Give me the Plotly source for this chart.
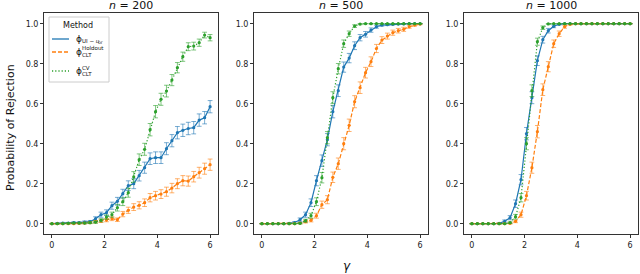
import numpy as np
import plotly.graph_objects as go

W, H = 640, 274

gamma = [0.0, 0.207, 0.414, 0.621, 0.828, 1.034, 1.241, 1.448, 1.655, 1.862,
         2.069, 2.276, 2.483, 2.69, 2.897, 3.103, 3.31, 3.517, 3.724, 3.931,
         4.138, 4.345, 4.552, 4.759, 4.966, 5.172, 5.379, 5.586, 5.793, 6.0]

panel_titles = ["200", "500", "1000"]
method_names = ["UI", "Holdout", "CV"]

ui_200 = [0, 0.002, 0.003, 0.003, 0.005, 0.005, 0.008, 0.01, 0.025, 0.045,
          0.055, 0.09, 0.112, 0.15, 0.19, 0.2, 0.24, 0.28, 0.325, 0.33,
          0.33, 0.375, 0.415, 0.455, 0.467, 0.476, 0.48, 0.518, 0.53, 0.585]
hold_200 = [0, 0, 0, 0, 0, 0.002, 0.003, 0.005, 0.01, 0.013,
            0.018, 0.025, 0.02, 0.048, 0.067, 0.083, 0.092, 0.105, 0.13, 0.14,
            0.148, 0.16, 0.178, 0.2, 0.215, 0.213, 0.235, 0.255, 0.275, 0.295]
cv_200 = [0, 0, 0, 0.002, 0.003, 0.003, 0.003, 0.005, 0.008, 0.017,
          0.033, 0.045, 0.08, 0.11, 0.155, 0.234, 0.32, 0.372, 0.47, 0.56,
          0.622, 0.663, 0.718, 0.78, 0.835, 0.885, 0.888, 0.905, 0.943, 0.93]

ui_500 = [0, 0, 0, 0, 0, 0.002, 0.006, 0.02, 0.045, 0.105,
          0.215, 0.315, 0.42, 0.56, 0.665, 0.783, 0.828, 0.89, 0.93, 0.947,
          0.968, 0.985, 0.993, 0.995, 0.997, 0.998, 0.999, 1, 1, 1]
hold_500 = [0, 0, 0, 0, 0, 0, 0, 0.003, 0.01, 0.017,
            0.04, 0.095, 0.12, 0.232, 0.3, 0.4, 0.492, 0.61, 0.68, 0.755,
            0.81, 0.876, 0.918, 0.938, 0.955, 0.965, 0.972, 0.985, 0.993, 0.998]
cv_500 = [0, 0, 0, 0, 0, 0, 0, 0.002, 0.015, 0.04,
          0.11, 0.23, 0.43, 0.63, 0.775, 0.9, 0.95, 0.988, 0.998, 1,
          1, 1, 1, 1, 1, 1, 1, 1, 1, 1]

ui_1000 = [0, 0, 0, 0, 0, 0.002, 0.012, 0.03, 0.1, 0.22,
           0.45, 0.63, 0.815, 0.92, 0.965, 0.987, 0.997, 1, 1, 1,
           1, 1, 1, 1, 1, 1, 1, 1, 1, 1]
hold_1000 = [0, 0, 0, 0, 0, 0, 0, 0.002, 0.012, 0.045,
             0.14, 0.28, 0.46, 0.67, 0.785, 0.9, 0.95, 0.985, 0.997, 1,
             1, 1, 1, 1, 1, 1, 1, 1, 1, 1]
cv_1000 = [0, 0, 0, 0, 0, 0, 0, 0.005, 0.035, 0.13,
           0.4, 0.665, 0.91, 0.98, 0.999, 1, 1, 1, 1, 1,
           1, 1, 1, 1, 1, 1, 1, 1, 1, 1]

# number of simulation repetitions behind each rejection rate
N_SIM = 1000

x_ticks = [0, 2, 4, 6]
y_ticks = [0.0, 0.2, 0.4, 0.6, 0.8, 1.0]

panels = [
    (ui_200, hold_200, cv_200),
    (ui_500, hold_500, cv_500),
    (ui_1000, hold_1000, cv_1000),
]

colors = ["#1f77b4", "#ff7f0e", "#2ca02c"]
err_colors = ["rgba(31,119,180,0.6)", "rgba(255,127,14,0.6)", "rgba(44,160,44,0.6)"]
dashes = ["solid", "4px,2px", "1.2px,2px"]

def px_x(v):
    return v / W

def px_y(v):
    return 1 - v / H

x_domains = [(44, 218), (254, 428), (464, 638)]
y_dom = (px_y(234.3), px_y(13.3))

fig = go.Figure()
FONT = "DejaVu Sans"
AX = "#333333"

for k, series in enumerate(panels):
    xa = "x" if k == 0 else f"x{k+1}"
    ya = "y" if k == 0 else f"y{k+1}"
    for j, vals in enumerate(series):
        p = np.array(vals, dtype=float)
        err = 1.96 * np.sqrt(p * (1 - p) / N_SIM)
        fig.add_trace(go.Scatter(
            x=gamma, y=vals, mode="lines+markers",
            line=dict(color=colors[j], width=1.2, dash=dashes[j]),
            marker=dict(color=colors[j], size=3.2),
            error_y=dict(type="data", array=err.tolist(), visible=True,
                         color=err_colors[j], thickness=1, width=2.4),
            xaxis=xa, yaxis=ya, showlegend=False, name=method_names[j],
        ))
    d = x_domains[k]
    axis_common = dict(showline=True, linecolor=AX, linewidth=1, mirror=True,
                       ticks="outside", ticklen=3, tickcolor=AX, tickwidth=1,
                       showgrid=False, zeroline=False,
                       tickfont=dict(family=FONT, size=8, color="#222"))
    fig.update_layout(**{
        ("xaxis" if k == 0 else f"xaxis{k+1}"): dict(
            domain=[px_x(d[0]), px_x(d[1])], range=[-0.3, 6.3],
            tickvals=x_ticks, ticktext=[str(t) for t in x_ticks],
            anchor=ya, **axis_common),
        ("yaxis" if k == 0 else f"yaxis{k+1}"): dict(
            domain=list(y_dom), range=[-0.053, 1.052],
            tickvals=y_ticks, ticktext=[f"{t:.1f}" for t in y_ticks],
            anchor=xa, **axis_common),
    })

annotations = []
shapes = []
# panel titles
for k, t in enumerate(panel_titles):
    d = x_domains[k]
    annotations.append(dict(
        text=f"<i>n</i> = {t}", x=px_x((d[0] + d[1]) / 2), y=px_y(5),
        xref="paper", yref="paper", xanchor="center", yanchor="middle",
        showarrow=False, font=dict(family=FONT, size=11, color="#111")))

# axis labels
annotations.append(dict(text="Probability of Rejection", x=px_x(10), y=px_y(128),
                        xref="paper", yref="paper", textangle=-90, showarrow=False,
                        xanchor="center", yanchor="middle",
                        font=dict(family=FONT, size=11, color="#111")))
annotations.append(dict(text="<i>γ</i>", x=px_x(347), y=px_y(266),
                        xref="paper", yref="paper", showarrow=False,
                        xanchor="center", yanchor="middle",
                        font=dict(family=FONT, size=12, color="#111")))

# legend box
shapes.append(dict(type="rect", xref="paper", yref="paper",
                   x0=px_x(49), x1=px_x(109), y0=px_y(82), y1=px_y(17),
                   line=dict(color="#cccccc", width=1), fillcolor="rgba(255,255,255,0.85)"))
annotations.append(dict(text="Method", x=px_x(78), y=px_y(25), xref="paper", yref="paper",
                        showarrow=False, xanchor="center", yanchor="middle",
                        font=dict(family=FONT, size=8, color="#111")))
leg_y = [39, 52, 71]
for j in range(3):
    shapes.append(dict(type="line", xref="paper", yref="paper",
                       x0=px_x(52), x1=px_x(69), y0=px_y(leg_y[j]), y1=px_y(leg_y[j]),
                       line=dict(color=colors[j], width=1.3, dash=dashes[j])))
    annotations.append(dict(text="ϕ", x=px_x(74), y=px_y(leg_y[j]), xref="paper",
                            yref="paper", showarrow=False, xanchor="left",
                            yanchor="middle", font=dict(family=FONT, size=9, color="#111")))
# entry 1 subscript
annotations.append(dict(text="UI − <i>u</i>", x=px_x(80), y=px_y(41), xref="paper",
                        yref="paper", showarrow=False, xanchor="left", yanchor="middle",
                        font=dict(family=FONT, size=5.5, color="#111")))
annotations.append(dict(text="or", x=px_x(96), y=px_y(42.5), xref="paper",
                        yref="paper", showarrow=False, xanchor="left", yanchor="middle",
                        font=dict(family=FONT, size=4.5, color="#111")))
# entry 2
annotations.append(dict(text="Holdout", x=px_x(80), y=px_y(48.5), xref="paper",
                        yref="paper", showarrow=False, xanchor="left", yanchor="middle",
                        font=dict(family=FONT, size=5.5, color="#111")))
annotations.append(dict(text="CLT", x=px_x(80), y=px_y(55), xref="paper",
                        yref="paper", showarrow=False, xanchor="left", yanchor="middle",
                        font=dict(family=FONT, size=5.5, color="#111")))
# entry 3
annotations.append(dict(text="CV", x=px_x(80), y=px_y(67.5), xref="paper",
                        yref="paper", showarrow=False, xanchor="left", yanchor="middle",
                        font=dict(family=FONT, size=5.5, color="#111")))
annotations.append(dict(text="CLT", x=px_x(80), y=px_y(74), xref="paper",
                        yref="paper", showarrow=False, xanchor="left", yanchor="middle",
                        font=dict(family=FONT, size=5.5, color="#111")))

fig.update_layout(width=W, height=H, margin=dict(l=0, r=0, t=0, b=0),
                  paper_bgcolor="white", plot_bgcolor="white",
                  annotations=annotations, shapes=shapes,
                  font=dict(family=FONT))

fig.write_html("out.html", config={"displayModeBar": False},
               post_script="document.body.style.margin='0';document.body.style.overflow='hidden';")
